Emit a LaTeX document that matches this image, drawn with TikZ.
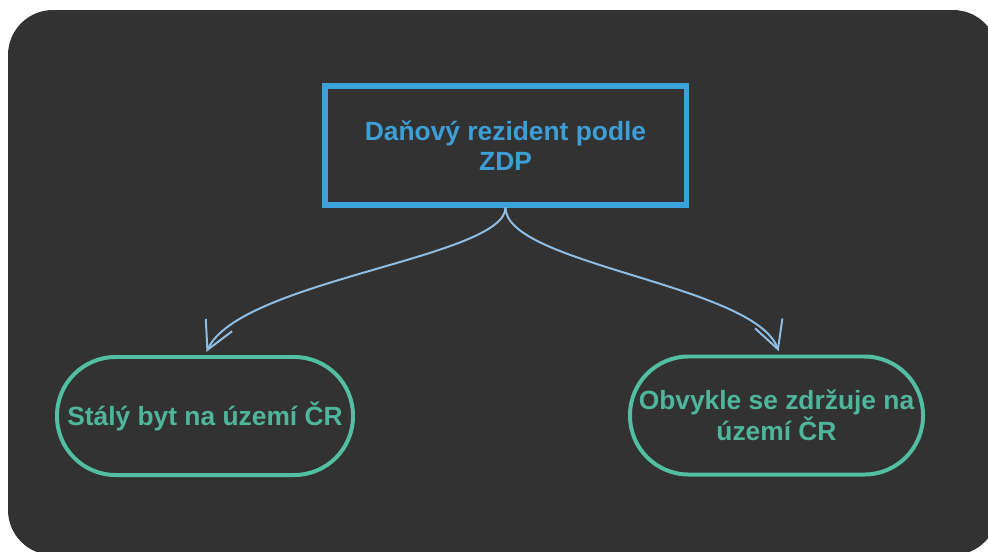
\documentclass[tikz,border=0pt]{standalone}
\usepackage{fontspec}
\setmainfont{Liberation Sans}
\usepackage{tikz}
\usetikzlibrary{arrows.meta, positioning, shapes.misc}
\definecolor{panelgray}{HTML}{323232}
\definecolor{residentblue}{HTML}{3AA3DC}
\definecolor{residenttext}{HTML}{3E9ED6}
\definecolor{linkblue}{HTML}{8EBDE6}
\definecolor{criteriateal}{HTML}{52BEA2}
\definecolor{criteriatext}{HTML}{4FB69C}

\tikzset{
  labeltext/.style={font=\fontsize{22.5}{26}\selectfont\bfseries, align=center},
  rootbox/.style={labeltext, draw=residentblue, text=residenttext, line width=4.3pt,
    minimum width=10.83cm, minimum height=3.57cm, inner sep=0pt},
  criteriapill/.style={labeltext, draw=criteriateal, text=criteriatext, line width=3.4pt,
    minimum height=3.54cm, inner sep=0pt, rounded corners=1.76cm},
  branch/.style={linkblue, line width=1.7pt, -{Straight Barb[length=0.82cm, width=0.87cm]}}
}

\begin{document}
\begin{tikzpicture}[x=0.03cm, y=-0.03cm]
  % Page and dark panel
  \useasboundingbox (0,0) rectangle (988,551);
  \fill[white] (0,0) rectangle (988,551);
  \begin{scope}
    \clip (0,0) rectangle (988,551);
    \fill[panelgray, rounded corners=1.35cm] (8,10) rectangle (998,555);
  \end{scope}

  % Root and the two criteria
  \node[rootbox] (resident) at (505.5,145.5) {Daňový rezident podle\\ZDP};
  \node[criteriapill, minimum width=8.88cm] (dwelling) at (205,416) {Stálý byt na území ČR};
  \node[criteriapill, minimum width=8.79cm] (stay) at (776.5,415.5) {Obvykle se zdržuje na\\území ČR};

  % Branches
  \draw[branch, shorten >=3pt] (resident.south) .. controls +(0,50) and +(35,-75) .. (dwelling.north);
  \draw[branch, shorten >=3pt] (resident.south) .. controls +(0,57) and +(-25,-70) .. ([xshift=0.1cm]stay.north);
\end{tikzpicture}
\end{document}
